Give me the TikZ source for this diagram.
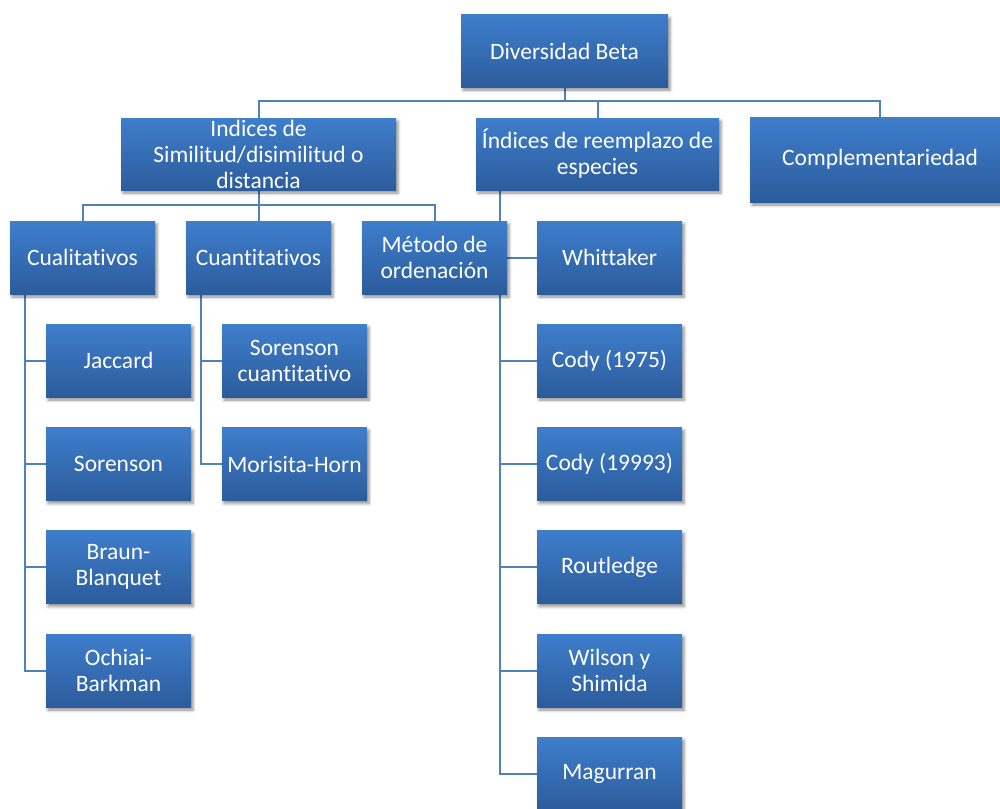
\documentclass[tikz,border=0pt]{standalone}
\usepackage{fontspec}
\setmainfont{Carlito}[Ligatures={NoCommon}]
\usetikzlibrary{shadows.blur,backgrounds}
\definecolor{btop}{RGB}{62,126,204}
\definecolor{bbot}{RGB}{44,92,156}
\definecolor{lin}{RGB}{79,129,189}
\tikzset{
  box/.style={rectangle, top color=btop, bottom color=bbot, draw=none, text=white,
    align=center, font=\fontsize{23.5}{26}\selectfont, inner sep=0pt,
    blur shadow={shadow xshift=2pt, shadow yshift=-3pt, shadow blur radius=3pt, shadow opacity=45}},
  sbox/.style={box, minimum width=145pt, minimum height=73pt},
  conn/.style={draw=lin, line width=2pt}
}
\begin{document}
\begin{tikzpicture}[x=1pt,y=-1pt]
\useasboundingbox (0,0) rectangle (1000,808);
\clip (0,0) rectangle (1000,808);
% level 0
\node[box, minimum width=207pt, minimum height=72pt] (beta) at (564.5,51) {Diversidad Beta};
% level 1
\node[box, minimum width=275pt, minimum height=72pt] (sim) at (258.5,154) {Indices de\\Similitud/disimilitud o\\distancia};
\node[box, minimum width=243pt, minimum height=72pt] (reem) at (597.5,154) {Índices de reemplazo de\\especies};
\node[box, minimum width=260pt, minimum height=85pt] (comp) at (880,159.5) {Complementariedad};
% level 2
\node[sbox] (cual) at (82.5,257.5) {Cualitativos};
\node[sbox] (cuan) at (258.5,257.5) {Cuantitativos};
\node[sbox] (met) at (434.5,257.5) {Método de\\ordenación};
% cualitativos children
\node[sbox] (jac) at (118.5,360.5) {Jaccard};
\node[sbox] (sor) at (118.5,464) {Sorenson};
\node[sbox] (bra) at (118.5,567) {Braun-\\Blanquet};
\node[sbox] (och) at (118.5,670.5) {Ochiai-\\Barkman};
% cuantitativos children
\node[sbox] (sorc) at (294.5,360.5) {Sorenson\\cuantitativo};
\node[sbox] (mor) at (294.5,464) {Morisita-Horn};
% reemplazo children
\node[sbox] (whi) at (609.5,257.5) {Whittaker};
\node[sbox] (cod1) at (609.5,360.5) {Cody (1975)};
\node[sbox] (cod2) at (609.5,464) {Cody (19993)};
\node[sbox] (rou) at (609.5,567) {Routledge};
\node[sbox] (wil) at (609.5,670.5) {Wilson y\\Shimida};
\node[sbox] (mag) at (609.5,773.5) {Magurran};
% helper coordinates
\coordinate (bus1) at (0,101);
\coordinate (bus2) at (0,205);
\coordinate (lv) at (25,0);
\coordinate (cv) at (201,0);
\coordinate (rv) at (500,0);
\begin{pgfonlayer}{background}
\draw[conn] (beta.south) -- (beta.south |- bus1);
\draw[conn] (sim.north) |- (comp.north |- bus1) -- (comp.north);
\draw[conn] (reem.north) -- (reem.north |- bus1);
\draw[conn] (sim.south) -- (cuan.north);
\draw[conn] (cual.north) |- (met.north |- bus2) -- (met.north);
% cualitativos
\draw[conn] (cual.south -| lv) |- (och.west);
\draw[conn] (lv |- jac.west) -- (jac.west);
\draw[conn] (lv |- sor.west) -- (sor.west);
\draw[conn] (lv |- bra.west) -- (bra.west);
% cuantitativos
\draw[conn] (cuan.south -| cv) |- (mor.west);
\draw[conn] (cv |- sorc.west) -- (sorc.west);
% reemplazo
\draw[conn] (reem.south -| rv) |- (mag.west);
\draw[conn] (rv |- whi.west) -- (whi.west);
\draw[conn] (rv |- cod1.west) -- (cod1.west);
\draw[conn] (rv |- cod2.west) -- (cod2.west);
\draw[conn] (rv |- rou.west) -- (rou.west);
\draw[conn] (rv |- wil.west) -- (wil.west);
\end{pgfonlayer}
\end{tikzpicture}
\end{document}
